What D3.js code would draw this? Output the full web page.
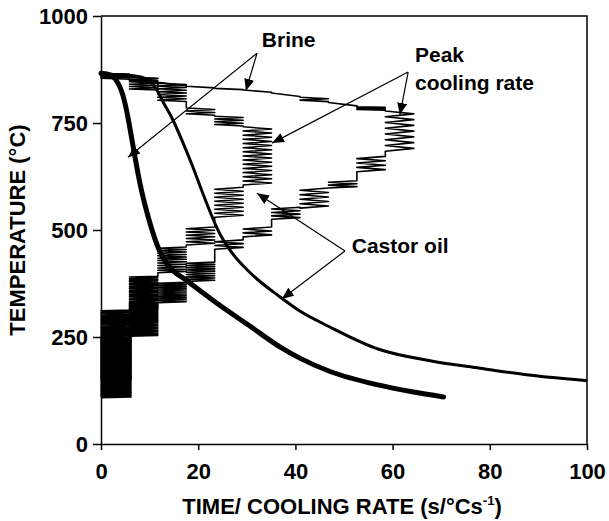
<!DOCTYPE html>
<html>
<head>
<meta charset="utf-8">
<script src="https://cdn.jsdelivr.net/npm/d3@7"></script>
<style>
  body { margin: 0; background: #fff; }
  text { font-family: "Liberation Sans", Arial, Helvetica, sans-serif; font-weight: bold; fill: #000; }
</style>
</head>
<body>
<div id="chart"></div>
<script>
/* Temperature vs time / cooling rate: brine and castor oil quench */

const xTicks = [0, 20, 40, 60, 80, 100];
const yTicks = [0, 250, 500, 750, 1000];

// time (s) vs temperature (°C)
const brineTime = [[0, 866], [2, 862], [3, 852], [4.5, 815], [5.6, 760], [6.3, 715], [7, 670],
  [8, 610], [9.7, 531], [12.1, 450], [14, 415], [17.5, 383], [23, 336], [30.7, 275],
  [36.8, 227], [41, 200], [47, 170], [57, 138], [64, 122], [70.5, 110]];
const castorTime = [[0, 864], [5, 862], [9, 855], [11.5, 827], [12.5, 805], [14.8, 757],
  [16.9, 703], [18.8, 650], [20.8, 590], [22, 555], [24.5, 490], [27, 446], [30.7, 400],
  [36.8, 344], [41, 310], [47, 274], [57, 222], [68, 194], [78, 177], [88, 161], [100, 148]];

// cooling rate steps: [rate low, rate high, T start, T end, number of zig segments]
const brineRateBands = [
  [0, 5.85, 866, 855, 5], [5.85, 11.7, 857, 846, 3], [11.7, 17.55, 845, 837, 1],
  [17.55, 23.4, 836, 832, 1], [23.4, 29.25, 831, 828, 1], [29.25, 35.1, 827, 822, 1],
  [35.1, 40.95, 820, 812, 1], [40.95, 46.8, 810, 800, 3], [46.8, 52.65, 798, 790, 1],
  [52.65, 58.5, 788, 780, 5], [58.5, 64.35, 778, 684, 14],
  [52.65, 58.5, 672, 636, 7], [46.8, 52.65, 615, 598, 5], [40.95, 46.8, 598, 551, 9],
  [35.1, 40.95, 553, 525, 7], [29.25, 35.1, 507, 484, 5], [23.4, 29.25, 477, 455, 5],
  [17.55, 23.4, 425, 380, 17], [11.7, 17.55, 378, 330, 21], [5.85, 11.7, 330, 252, 41],
  [0, 6.2, 250, 108, 81]];
const castorRateBands = [
  [0, 5.85, 866, 852, 5], [5.85, 11.7, 857, 827, 11], [11.7, 17.55, 843, 800, 13],
  [17.55, 23.4, 785, 768, 5], [23.4, 29.25, 766, 743, 7], [29.25, 35.1, 741, 605, 28],
  [23.4, 29.25, 600, 530, 15], [17.55, 23.4, 507, 465, 11], [11.7, 17.55, 460, 400, 21],
  [5.85, 11.7, 392, 315, 41], [0, 6.2, 313, 150, 91]];

// annotations (data units)
const notes = [
  { lines: ["Brine"], x: 33.1, T: 927 },
  { lines: ["Peak", "cooling rate"], x: 64.6, T: 892, lead: 28 },
  { lines: ["Castor oil"], x: 51.6, T: 446 }];
const arrows = [
  { from: [32.1, 913], to: [[5.56, 670], [29.8, 825]] },
  { from: [63.2, 869], to: [[61.5, 769], [35.2, 703]] },
  { from: [50.2, 451], to: [[32.1, 586], [37.2, 339]] }];

const W = 609, H = 521;
const x = d3.scaleLinear().domain([0, 100]).range([101, 587]);
const y = d3.scaleLinear().domain([0, 1000]).range([444, 16]);

const svg = d3.select("#chart").append("svg").attr("width", W).attr("height", H);

svg.append("defs").append("marker")
  .attr("id", "head").attr("markerUnits", "userSpaceOnUse")
  .attr("viewBox", "0 0 12 10").attr("refX", 12).attr("refY", 5)
  .attr("markerWidth", 12).attr("markerHeight", 10).attr("orient", "auto")
  .append("path").attr("d", "M0,0L12,5L0,10Z").attr("fill", "#000");

// zigzag path through the cooling-rate steps
function zigPoints(bands) {
  const pts = [];
  bands.forEach(([lo, hi, t0, t1, n]) => {
    const prev = pts.length ? pts[pts.length - 1][0] : lo;
    let side = Math.abs(prev - lo) <= Math.abs(prev - hi) ? 0 : 1;
    for (let j = 0; j <= n; j++) {
      pts.push([side ? hi : lo, t0 + (t1 - t0) * j / n]);
      side = 1 - side;
    }
  });
  return pts;
}

const line = d3.line().x(d => x(d[0])).y(d => y(d[1]));
const smooth = d3.line().x(d => x(d[0])).y(d => y(d[1])).curve(d3.curveMonotoneX);

const plot = svg.append("g").attr("fill", "none").attr("stroke", "#000")
  .attr("stroke-linejoin", "round");
plot.append("path").attr("d", line(zigPoints(castorRateBands))).attr("stroke-width", 1.5);
plot.append("path").attr("d", line(zigPoints(brineRateBands))).attr("stroke-width", 1.6);
plot.append("path").attr("d", smooth(castorTime)).attr("stroke-width", 3);
plot.append("path").attr("d", smooth(brineTime)).attr("stroke-width", 5).attr("stroke-linecap", "round");

// axes
const xAxis = svg.append("g").attr("transform", `translate(0,${y(0)})`)
  .call(d3.axisBottom(x).tickValues(xTicks).tickFormat(d3.format("d")).tickSize(6).tickSizeOuter(0));
xAxis.selectAll("text").attr("y", 35).attr("dy", 0).style("font-size", "22px");
const yAxis = svg.append("g").attr("transform", `translate(${x(0)},0)`)
  .call(d3.axisLeft(y).tickValues(yTicks).tickFormat(d3.format("d")).tickSize(8).tickPadding(5).tickSizeOuter(0));
yAxis.selectAll("text").attr("dy", "0.36em").style("font-size", "22px");
svg.selectAll(".domain, .tick line").attr("stroke", "#000").attr("stroke-width", 1.5);
svg.selectAll(".tick text").attr("font-family", null);

svg.append("path").attr("fill", "none").attr("stroke", "#000").attr("stroke-width", 1.5)
  .attr("d", `M${x(0)},${y(1000)}H${x(100)}V${y(0)}`);

// axis titles
const xt = svg.append("text").attr("x", 342).attr("y", 514).attr("text-anchor", "middle")
  .style("font-size", "22px").text("TIME/ COOLING RATE (s/°Cs");
xt.append("tspan").attr("dy", -9).style("font-size", "13px").text("-1");
xt.append("tspan").attr("dy", 9).text(")");
svg.append("text").attr("transform", "translate(25,230) rotate(-90)")
  .attr("text-anchor", "middle").style("font-size", "22px").text("TEMPERATURE (°C)");

// annotations
notes.forEach(n => {
  const t = svg.append("text").attr("x", x(n.x)).attr("y", y(n.T)).style("font-size", "21px");
  n.lines.forEach((s, i) => t.append("tspan").attr("x", x(n.x)).attr("dy", i ? n.lead : 0).text(s));
});
arrows.forEach(a => a.to.forEach(tp => {
  svg.append("line")
    .attr("x1", x(a.from[0])).attr("y1", y(a.from[1]))
    .attr("x2", x(tp[0])).attr("y2", y(tp[1]))
    .attr("stroke", "#000").attr("stroke-width", 1.2).attr("marker-end", "url(#head)");
}));
</script>
</body>
</html>
